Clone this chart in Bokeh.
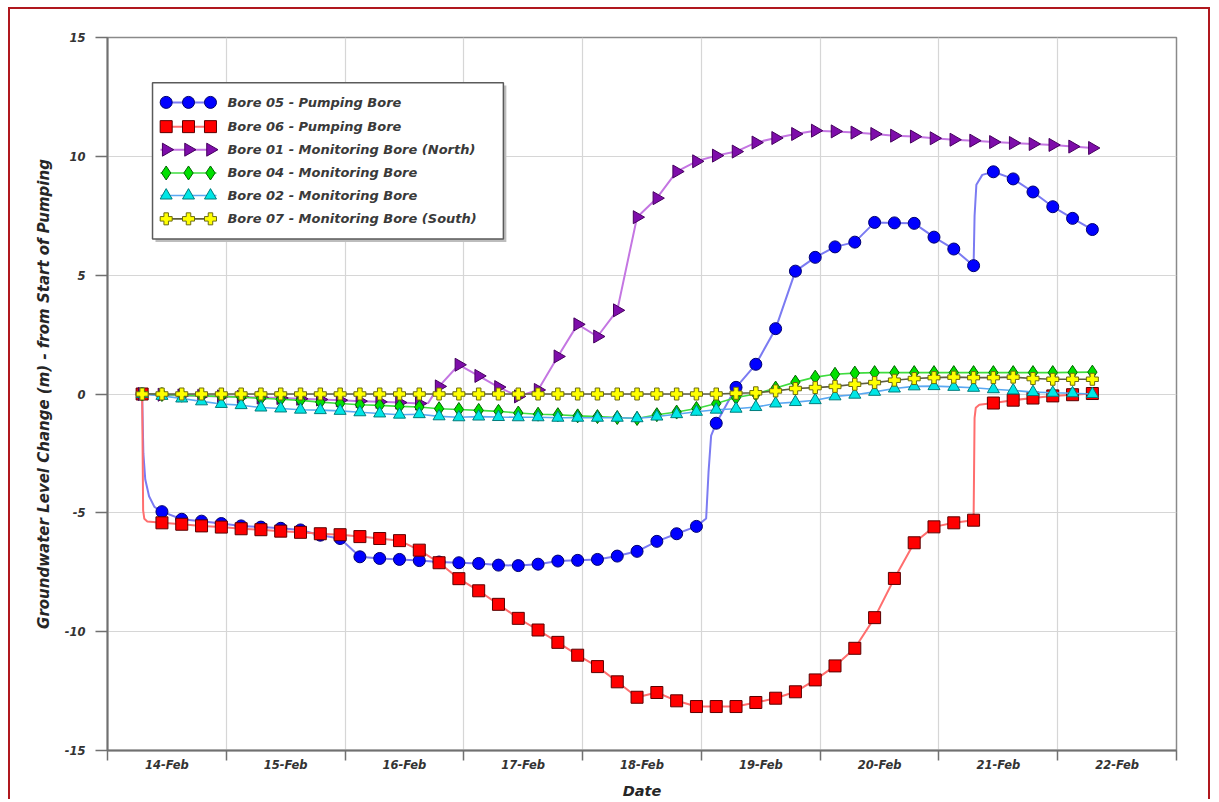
import numpy as np
from bokeh.plotting import figure
from bokeh.models import Range1d, FixedTicker
from bokeh.core.properties import value
from bokeh.embed import file_html
from bokeh.resources import INLINE

# ---------------------------------------------------------------------------
# Readings: every 4 hours from 14-Feb 07:00 (start of pumping) to 22-Feb 07:00
# ---------------------------------------------------------------------------
START_HOUR = 7          # 14-Feb 07:00
STEP_HOURS = 4
N_READINGS = 49

DATE_LABELS = ["14-Feb", "15-Feb", "16-Feb", "17-Feb", "18-Feb",
               "19-Feb", "20-Feb", "21-Feb", "22-Feb"]
Y_TICKS = [-15, -10, -5, 0, 5, 10, 15]

BORE05 = [0.00, -4.95, -5.27, -5.35, -5.45, -5.55, -5.60, -5.65, -5.72, -5.94,
          -6.08, -6.85, -6.92, -6.96, -7.01, -7.07, -7.10, -7.13, -7.20, -7.22,
          -7.16, -7.03, -7.00, -6.96, -6.82, -6.62, -6.20, -5.88, -5.57, -1.23,
          0.28, 1.25, 2.75, 5.17, 5.75, 6.19, 6.39, 7.22, 7.20, 7.18,
          6.60, 6.10, 5.40, 9.35, 9.05, 8.50, 7.88, 7.39, 6.92]
BORE06 = [0.00, -5.42, -5.48, -5.55, -5.60, -5.67, -5.71, -5.77, -5.82, -5.88,
          -5.92, -6.00, -6.08, -6.17, -6.57, -7.10, -7.77, -8.28, -8.85, -9.44,
          -9.93, -10.45, -10.99, -11.47, -12.11, -12.76, -12.56, -12.91, -13.15, -13.15,
          -13.15, -12.98, -12.80, -12.53, -12.03, -11.44, -10.70, -9.41, -7.76, -6.26,
          -5.59, -5.42, -5.31, -0.38, -0.26, -0.17, -0.08, -0.03, 0.02]
BORE01 = [0.00, -0.03, -0.06, -0.08, -0.10, -0.12, -0.15, -0.17, -0.20, -0.23,
          -0.26, -0.30, -0.33, -0.36, -0.40, 0.32, 1.23, 0.76, 0.29, -0.10,
          0.17, 1.58, 2.93, 2.42, 3.52, 7.44, 8.24, 9.36, 9.79, 10.03,
          10.20, 10.58, 10.77, 10.94, 11.08, 11.05, 11.00, 10.94, 10.87, 10.83,
          10.76, 10.70, 10.66, 10.60, 10.56, 10.52, 10.48, 10.41, 10.35]
BORE04 = [0.00, -0.02, -0.05, -0.08, -0.10, -0.13, -0.18, -0.22, -0.27, -0.34,
          -0.40, -0.45, -0.48, -0.52, -0.55, -0.62, -0.65, -0.69, -0.73, -0.80,
          -0.85, -0.87, -0.92, -0.95, -0.99, -1.03, -0.87, -0.76, -0.61, -0.40,
          -0.15, 0.00, 0.25, 0.50, 0.71, 0.83, 0.88, 0.90, 0.90, 0.90,
          0.90, 0.90, 0.90, 0.90, 0.90, 0.90, 0.90, 0.91, 0.92]
BORE02 = [0.00, -0.08, -0.19, -0.31, -0.42, -0.47, -0.57, -0.61, -0.66, -0.68,
          -0.71, -0.77, -0.82, -0.87, -0.85, -0.94, -0.98, -0.95, -0.97, -0.98,
          -0.98, -1.00, -1.00, -1.00, -1.00, -1.02, -0.95, -0.85, -0.75, -0.66,
          -0.62, -0.55, -0.40, -0.34, -0.26, -0.10, -0.03, 0.09, 0.23, 0.32,
          0.33, 0.30, 0.26, 0.20, 0.15, 0.08, 0.05, 0.03, 0.00]
BORE07 = [0.00, 0.00, 0.00, 0.00, 0.00, 0.00, 0.00, 0.00, 0.00, 0.00,
          0.00, 0.00, 0.00, 0.00, 0.00, 0.00, 0.00, 0.00, 0.00, 0.00,
          0.00, 0.00, 0.00, 0.00, 0.00, 0.00, 0.00, 0.00, 0.00, 0.00,
          0.03, 0.05, 0.13, 0.23, 0.27, 0.32, 0.41, 0.48, 0.58, 0.65,
          0.69, 0.71, 0.69, 0.69, 0.71, 0.65, 0.62, 0.62, 0.62]

# Logger readings between the 4-hourly marks (day since 14-Feb 00:00, metres),
# capturing the sharp responses at pump start / stop.
BORE05_LOG_T = [0.302, 0.318, 0.350, 0.395, 5.040, 5.060, 5.082, 7.300, 7.315, 7.365]
BORE05_LOG_V = [-2.50, -3.60, -4.30, -4.75, -5.24, -3.30, -1.75, 7.50, 8.80, 9.22]
BORE06_LOG_T = [0.300, 0.310, 0.335, 7.300, 7.310, 7.340]
BORE06_LOG_V = [-4.90, -5.25, -5.36, -1.00, -0.58, -0.45]
BORE01_LOG_T = [2.700, 2.735]
BORE01_LOG_V = [-0.38, -0.10]

LABELS = ["Bore 05 - Pumping Bore",
          "Bore 06 - Pumping Bore",
          "Bore 01 - Monitoring Bore (North)",
          "Bore 04 - Monitoring Bore",
          "Bore 02 - Monitoring Bore",
          "Bore 07 - Monitoring Bore (South)"]

T = [(START_HOUR + STEP_HOURS * i) / 24.0 for i in range(N_READINGS)]

FONT_NAME = "DejaVu Sans"
FONT = value(FONT_NAME)

SERIES = [
    # values, log_t, log_v, marker, size, angle, fill, outline, line colour, line width
    (BORE05, BORE05_LOG_T, BORE05_LOG_V, "circle", 12, 0.0, "#0000FF", "#00006E", "#7B7BF2", 2.0),
    (BORE06, BORE06_LOG_T, BORE06_LOG_V, "square", 12, 0.0, "#FF0000", "#5A0000", "#FF6E6E", 2.0),
    (BORE01, BORE01_LOG_T, BORE01_LOG_V, "triangle", 13, -np.pi / 2, "#7E0DAA", "#45005E", "#C476E2", 2.0),
    (BORE04, [], [], "diamond", 14, 0.0, "#00E000", "#006400", "#3FDC3F", 1.6),
    (BORE02, [], [], "triangle", 12, 0.0, "#00E6E6", "#007C7C", "#5AA8F2", 1.6),
    (BORE07, [], [], "plus", 12, 0.0, "#FFFF00", "#6B6B10", "#5E5E40", 1.6),
]


def line_path(vals, log_t, log_v):
    pts = sorted(list(zip(T, vals)) + list(zip(log_t, log_v)))
    return [q[0] for q in pts], [q[1] for q in pts]


p = figure(width=1202, height=792,
           x_range=Range1d(0, 9), y_range=Range1d(-15, 15),
           output_backend="svg", toolbar_location=None,
           min_border_left=97, min_border_right=36,
           min_border_top=28, min_border_bottom=50,
           background_fill_color="white", border_fill_color="white")
p.margin = (7, 0, 0, 8)
p.styles = {"border": "2px solid #B0181E", "border-bottom": "none"}

p.outline_line_color = "#8A8A8A"
p.outline_line_width = 1.5

# Axes
p.yaxis.ticker = FixedTicker(ticks=Y_TICKS)
p.yaxis.major_label_overrides = {t: str(t) for t in Y_TICKS}
p.yaxis.major_tick_out = 12
p.yaxis.major_tick_in = 0
p.yaxis.minor_tick_line_color = None
p.yaxis.major_label_standoff = 10
p.yaxis.axis_label = "Groundwater Level Change (m) - from Start of Pumping"
p.yaxis.axis_label_standoff = 9

day_centres = [i + 0.5 for i in range(len(DATE_LABELS))]
p.xaxis.ticker = FixedTicker(ticks=day_centres, minor_ticks=list(range(len(DATE_LABELS) + 1)))
p.xaxis.major_label_overrides = {c: lab for c, lab in zip(day_centres, DATE_LABELS)}
p.xaxis.major_tick_out = 0
p.xaxis.major_tick_in = 0
p.xaxis.minor_tick_out = 10
p.xaxis.minor_tick_in = 0
p.xaxis.major_label_standoff = -3
p.xaxis.axis_label = "Date"
p.xaxis.axis_label_standoff = 8

for ax in (p.xaxis, p.yaxis):
    ax.axis_line_color = "#707070"
    ax.axis_line_width = 2
    ax.major_tick_line_color = "#707070"
    ax.major_tick_line_width = 1.5
    ax.minor_tick_line_width = 1.5
    ax.major_label_text_font = FONT_NAME
    ax.major_label_text_font_style = "bold italic"
    ax.major_label_text_font_size = "11.5px"
    ax.major_label_text_color = "#333333"
    ax.axis_label_text_font = FONT_NAME
    ax.axis_label_text_font_style = "bold italic"
    ax.axis_label_text_font_size = "14.5px"
    ax.axis_label_text_color = "#262626"
p.xaxis.minor_tick_line_color = "#707070"
p.yaxis.axis_label_text_font_size = "15px"

p.xgrid.ticker = FixedTicker(ticks=list(range(1, len(DATE_LABELS))))
p.ygrid.ticker = FixedTicker(ticks=Y_TICKS[1:-1])
for g in (p.xgrid, p.ygrid):
    g.grid_line_color = "#D6D6D6"
    g.grid_line_width = 1.2

# Series
for vals, lt, lv, mk, sz, ang, fill, edge, lcol, lw in SERIES:
    lx, ly = line_path(vals, lt, lv)
    p.line(lx, ly, line_color=lcol, line_width=lw)
    p.scatter(T, vals, marker=mk, size=sz, angle=ang,
              fill_color=fill, line_color=edge, line_width=1)

# Legend panel (drawn in data space, top-left of the plot)
LEG_X0, LEG_X1 = 0.379, 3.333
LEG_Y0, LEG_Y1 = 6.52, 13.10
p.quad(left=[LEG_X0 + 0.025], right=[LEG_X1 + 0.025],
       bottom=[LEG_Y0 - 0.12], top=[LEG_Y1 - 0.12],
       fill_color="#BDBDBD", line_color=None)
p.quad(left=[LEG_X0], right=[LEG_X1], bottom=[LEG_Y0], top=[LEG_Y1],
       fill_color="white", line_color="#5A5A5A", line_width=1.5)

row_y = [12.27, 11.25, 10.28, 9.30, 8.35, 7.37]
mark_x = [0.494, 0.682, 0.867]
for ry, (vals, lt, lv, mk, sz, ang, fill, edge, lcol, lw) in zip(row_y, SERIES):
    p.line([0.446, 0.917], [ry, ry], line_color=lcol, line_width=lw)
    p.scatter(mark_x, [ry] * 3, marker=mk, size=sz, angle=ang,
              fill_color=fill, line_color=edge, line_width=1)

p.text(x=[1.010] * len(LABELS), y=row_y, text=LABELS,
       text_font=FONT, text_font_style="bold italic", text_font_size="13px",
       text_baseline="middle", text_align="left", text_color="#3A3A3A")

open("out.html", "w").write(file_html(p, INLINE))
